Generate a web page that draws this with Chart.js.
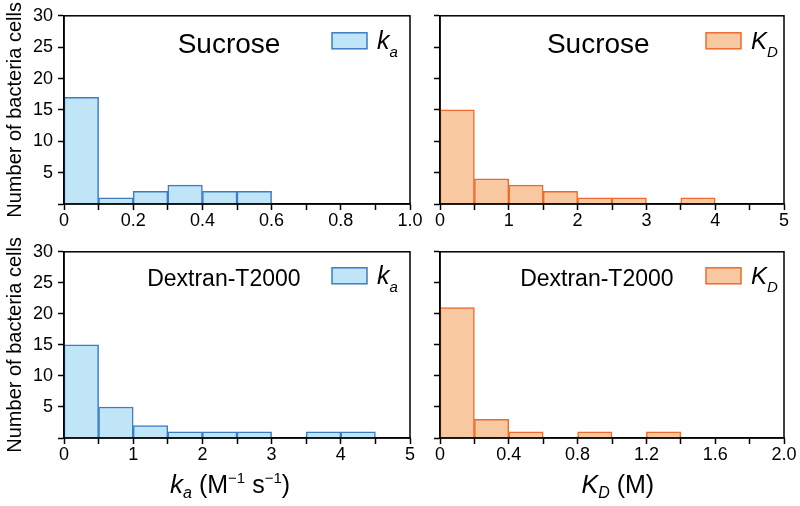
<!DOCTYPE html>
<html lang="en">
<head>
<meta charset="UTF-8">
<title>Histogramas ka / KD</title>
<style>
  body { margin: 0; background: #fff; }
  #wrap { position: relative; width: 800px; height: 506px; overflow: hidden; }
  .painel { position: absolute; }
</style>
</head>
<body>
<div id="wrap">
  <div class="painel" style="left:0;top:0"><canvas id="g1" width="425" height="230"></canvas></div>
  <div class="painel" style="left:420px;top:0"><canvas id="g2" width="380" height="230"></canvas></div>
  <div class="painel" style="left:0;top:236px"><canvas id="g3" width="425" height="270"></canvas></div>
  <div class="painel" style="left:420px;top:236px"><canvas id="g4" width="380" height="270"></canvas></div>
</div>

<script src="https://cdn.jsdelivr.net/npm/chart.js"></script>
<script>
// dados (contagem por classe)
const kaSucrose = [17, 1, 2, 3, 2, 2, 0, 0, 0, 0]   // classes de 0.1, 0 a 1.0
const kdSucrose = [15, 4, 3, 2, 1, 1, 0, 1, 0, 0]   // classes de 0.5, 0 a 5
const kaDextran = [15, 5, 2, 1, 1, 1, 0, 1, 1, 0]   // classes de 0.5, 0 a 5
const kdDextran = [21, 3, 1, 0, 1, 0, 1, 0, 0, 0]   // classes de 0.2, 0 a 2.0

const larguraKaSuc = 0.1
const larguraKdSuc = 0.5
const larguraKaDex = 0.5
const larguraKdDex = 0.2

const yTicks = [0, 5, 10, 15, 20, 25, 30]
const tituloY = 'Number of bacteria cells'

const fonte = '"Liberation Sans", Arial, sans-serif'
Chart.defaults.font.family = fonte
Chart.defaults.color = '#000'

const azul = { fundo: '#bfe5f6', borda: '#3b7cc6' }
const laranja = { fundo: '#f8c8a0', borda: '#f06a2c' }

// desenha texto com partes (italico, subscrito, sobrescrito)
function textoRico(ctx, partes, x, y, centro) {
  let total = 0
  partes.forEach(p => {
    ctx.font = (p.it ? 'italic ' : '') + p.tam + 'px ' + fonte
    p.w = ctx.measureText(p.t).width
    total += p.w
  })
  let cx = centro ? x - total / 2 : x
  ctx.textBaseline = 'alphabetic'
  ctx.textAlign = 'left'
  ctx.fillStyle = '#000'
  partes.forEach(p => {
    ctx.font = (p.it ? 'italic ' : '') + p.tam + 'px ' + fonte
    ctx.fillText(p.t, cx, y + (p.dy || 0))
    cx += p.w
  })
}

const decoracao = {
  id: 'decoracao',
  afterDatasetsDraw(chart, args, op) {
    const { ctx, chartArea: a } = chart
    const w = a.right - a.left
    ctx.save()
    // caixa em volta
    ctx.lineWidth = 1.5
    ctx.strokeStyle = '#000'
    ctx.strokeRect(a.left, a.top, w, a.bottom - a.top)
    // titulo do painel
    ctx.font = op.tamTitulo + 'px ' + fonte
    ctx.fillStyle = '#000'
    ctx.textAlign = 'center'
    ctx.textBaseline = 'alphabetic'
    ctx.fillText(op.titulo, a.left + op.posTitulo * w, a.top + op.baseTitulo)
    // legenda
    const ds = chart.data.datasets[0]
    const bx = a.right - 78
    const by = a.top + op.topoLegenda
    ctx.fillStyle = ds.backgroundColor
    ctx.fillRect(bx, by, 35, 16)
    ctx.lineWidth = 1.5
    ctx.strokeStyle = ds.borderColor
    ctx.strokeRect(bx, by, 35, 16)
    textoRico(ctx, op.legenda, bx + 45, by + 16, false)
    // titulo do eixo x
    if (op.tituloX) {
      textoRico(ctx, op.tituloX, a.left + op.posTituloX * w, a.bottom + 55, true)
    }
    ctx.restore()
  }
}

function montaGrafico(id, cont, largura, maxX, passoX, cores, mostraY, cfg) {
  const pontos = cont.map((c, i) => ({ x: (i + 0.5) * largura, y: c }))
  return new Chart(document.getElementById(id), {
    type: 'bar',
    data: {
      datasets: [{
        data: pontos,
        backgroundColor: cores.fundo,
        borderColor: cores.borda,
        borderWidth: 1.5,
        barPercentage: 1,
        categoryPercentage: 1
      }]
    },
    options: {
      responsive: false,
      animation: false,
      layout: { padding: cfg.padding },
      plugins: {
        legend: { display: false },
        tooltip: { enabled: false },
        decoracao: cfg.deco
      },
      scales: {
        x: {
          type: 'linear',
          min: 0,
          max: maxX,
          offset: false,
          grid: { drawOnChartArea: false, offset: false, tickLength: 6, tickColor: '#000', tickWidth: 1.5 },
          border: { color: '#000', width: 1.5 },
          ticks: {
            stepSize: passoX,
            autoSkip: false,
            maxRotation: 0,
            padding: 0,
            font: { size: 18 },
            color: '#000',
            callback: (v, i) => {
              if (i % 2 !== 0) return ''
              if (v === 0) return '0'
              return cfg.inteiro ? String(Math.round(v)) : (Math.round(v * 10) / 10).toFixed(1)
            }
          },
          afterFit: s => { s.height = 26 }
        },
        y: {
          min: 0,
          max: 30,
          grid: { drawOnChartArea: false, tickLength: 6, tickColor: '#000', tickWidth: 1.5 },
          border: { color: '#000', width: 1.5 },
          afterBuildTicks: s => { s.ticks = yTicks.map(v => ({ value: v })) },
          ticks: {
            padding: 5,
            font: { size: 18 },
            color: '#000',
            callback: v => (mostraY && v !== 0) ? String(v) : ''
          },
          title: {
            display: mostraY,
            text: tituloY,
            font: { size: 20 },
            color: '#000',
            padding: { top: 3, bottom: 0 }
          },
          afterFit: s => { s.width = mostraY ? 64 : 20 }
        }
      }
    },
    plugins: [decoracao]
  })
}

const legKa = [{ t: 'k', it: true, tam: 25 }, { t: 'a', it: true, tam: 15, dy: 8 }]
const legKd = [{ t: 'K', it: true, tam: 24 }, { t: 'D', it: true, tam: 15, dy: 8 }]

const eixoKa = [
  { t: 'k', it: true, tam: 26 }, { t: 'a', it: true, tam: 16, dy: 5 },
  { t: ' (M', tam: 25 }, { t: '\u22121', tam: 15, dy: -10 },
  { t: ' s', tam: 25 }, { t: '\u22121', tam: 15, dy: -10 }, { t: ')', tam: 25 }
]
const eixoKd = [
  { t: 'K', it: true, tam: 25 }, { t: 'D', it: true, tam: 16, dy: 5 },
  { t: ' (M)', tam: 25 }
]

montaGrafico('g1', kaSucrose, larguraKaSuc, 1.0, 0.1, azul, true, {
  padding: { top: 15, right: 15, left: 0, bottom: 0 },
  deco: { titulo: 'Sucrose', tamTitulo: 28, posTitulo: 0.477, baseTitulo: 37, topoLegenda: 17, legenda: legKa }
})
montaGrafico('g2', kdSucrose, larguraKdSuc, 5, 0.5, laranja, false, {
  padding: { top: 15, right: 16, left: 0, bottom: 0 }, inteiro: true,
  deco: { titulo: 'Sucrose', tamTitulo: 28, posTitulo: 0.46, baseTitulo: 37, topoLegenda: 17, legenda: legKd }
})
montaGrafico('g3', kaDextran, larguraKaDex, 5, 0.5, azul, true, {
  padding: { top: 15, right: 15, left: 0, bottom: 42 }, inteiro: true,
  deco: { titulo: 'Dextran-T2000', tamTitulo: 23, posTitulo: 0.462, baseTitulo: 34, topoLegenda: 16, legenda: legKa,
          tituloX: eixoKa, posTituloX: 0.48 }
})
montaGrafico('g4', kdDextran, larguraKdDex, 2.0, 0.2, laranja, false, {
  padding: { top: 15, right: 16, left: 0, bottom: 42 },
  deco: { titulo: 'Dextran-T2000', tamTitulo: 23, posTitulo: 0.456, baseTitulo: 34, topoLegenda: 16, legenda: legKd,
          tituloX: eixoKd, posTituloX: 0.517 }
})
</script>
</body>
</html>
